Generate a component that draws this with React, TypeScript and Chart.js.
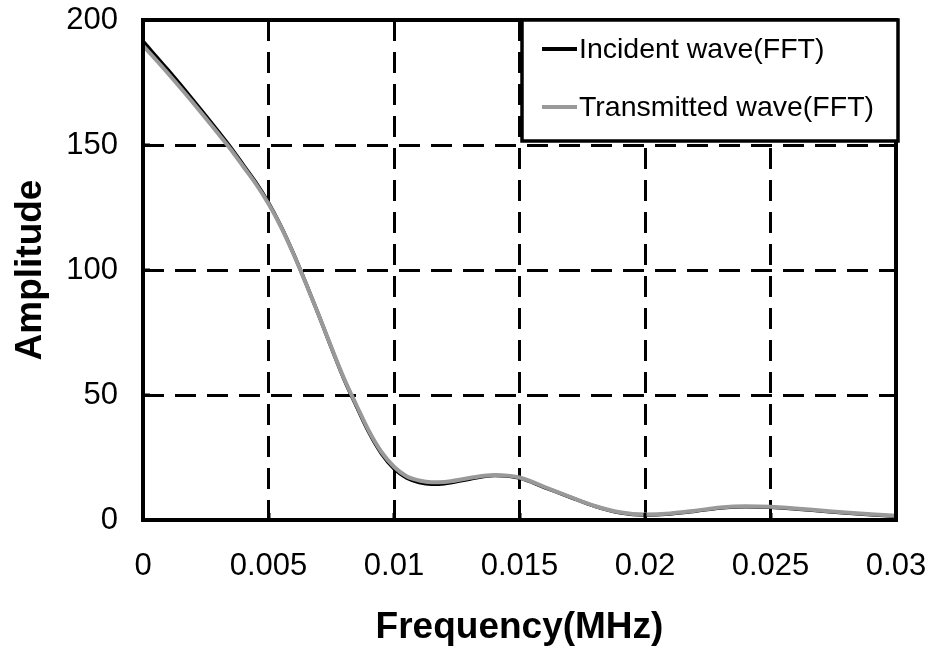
import React, { useEffect, useRef } from "react";
import { Chart, registerables } from "chart.js";

Chart.register(...registerables);

const frequency = [
  0, 0.001, 0.002, 0.003, 0.0035, 0.004, 0.0045, 0.005, 0.0055, 0.006, 0.0065, 0.007, 0.0075,
  0.008, 0.0085, 0.009, 0.0095, 0.01, 0.0105, 0.011, 0.0115, 0.012, 0.013, 0.014, 0.015, 0.016,
  0.017, 0.018, 0.019, 0.02, 0.021, 0.022, 0.023, 0.024, 0.025, 0.026, 0.027, 0.028, 0.029, 0.03,
];
const incident = [
  191.5, 180, 168, 155.5, 149, 142, 135, 127, 117.5, 106.5, 94.5, 82, 69, 56.5, 45.5, 35, 26.5,
  20.5, 16.8, 15, 14.3, 14.5, 16.3, 17.8, 16.8, 13, 9.2, 5.5, 2.9, 2, 2.4, 3.5, 4.8, 5.3, 5.1, 4.4,
  3.6, 2.8, 2.1, 1.5,
];
const transmitted = [
  189.8, 178.6, 166.8, 154.5, 148.2, 141.3, 134.4, 126.5, 117.2, 106.3, 94.4, 82, 69.2, 56.8, 46,
  35.6, 27.2, 21.3, 17.5, 15.8, 15.1, 15.2, 16.8, 18, 17, 13.2, 9.3, 5.6, 3.1, 2.2, 2.6, 3.7, 5,
  5.5, 5.3, 4.6, 3.8, 3, 2.3, 1.7,
];
const xTicks = [0, 0.005, 0.01, 0.015, 0.02, 0.025, 0.03];
const xTickLabels = ["0", "0.005", "0.01", "0.015", "0.02", "0.025", "0.03"];
const yTicks = [0, 50, 100, 150, 200];
const seriesNames = ["Incident wave(FFT)", "Transmitted wave(FFT)"];
const seriesColors = ["#000000", "#999999"];

const FONT = "'Liberation Sans', Arial, sans-serif";

const framePlugin = {
  id: "frameAndLegend",
  afterDatasetsDraw(chart: any) {
    const { ctx, chartArea } = chart;
    const { left, right, top, bottom } = chartArea;
    ctx.save();
    ctx.strokeStyle = "#000";
    ctx.lineWidth = 3;
    const ys = chart.scales.y;
    const xs = chart.scales.x;
    ctx.beginPath();
    yTicks.forEach((v) => {
      const py = Math.round(ys.getPixelForValue(v));
      ctx.moveTo(left, py);
      ctx.lineTo(left + 7, py);
    });
    xTicks.forEach((v) => {
      const px = Math.round(xs.getPixelForValue(v));
      ctx.moveTo(px, bottom);
      ctx.lineTo(px, bottom - 7);
    });
    ctx.stroke();
    ctx.lineWidth = 4;
    ctx.strokeRect(left, top, right - left, bottom - top);
    const bx = 522, by = 20, bw = 376, bh = 121;
    ctx.fillStyle = "#fff";
    ctx.fillRect(bx, by, bw, bh);
    ctx.lineWidth = 3.5;
    ctx.strokeStyle = "#000";
    ctx.strokeRect(bx, by, bw, bh);
    const rows = [49, 107];
    ctx.font = `28.5px ${FONT}`;
    ctx.textBaseline = "middle";
    ctx.textAlign = "left";
    seriesNames.forEach((name, i) => {
      ctx.strokeStyle = seriesColors[i];
      ctx.lineWidth = 4;
      ctx.beginPath();
      ctx.moveTo(542, rows[i]);
      ctx.lineTo(577, rows[i]);
      ctx.stroke();
      ctx.fillStyle = "#000";
      ctx.fillText(name, 579, rows[i] + 1);
    });
    ctx.restore();
  },
};

export default function App() {
  const ref = useRef<HTMLCanvasElement | null>(null);
  useEffect(() => {
    if (!ref.current) return;
    const chart = new Chart(ref.current, {
      type: "line",
      data: {
        datasets: [
          {
            label: seriesNames[0],
            data: frequency.map((f, i) => ({ x: f, y: incident[i] })),
            borderColor: seriesColors[0],
            borderWidth: 3.5,
            pointRadius: 0,
            cubicInterpolationMode: "monotone",
            fill: false,
            order: 1,
          },
          {
            label: seriesNames[1],
            data: frequency.map((f, i) => ({ x: f, y: transmitted[i] })),
            borderColor: seriesColors[1],
            borderWidth: 4,
            pointRadius: 0,
            cubicInterpolationMode: "monotone",
            fill: false,
            order: 0,
          },
        ],
      },
      options: {
        responsive: false,
        animation: false,
        layout: { padding: { top: 20, right: 36, left: 0, bottom: 0 } },
        plugins: { legend: { display: false }, tooltip: { enabled: false } },
        scales: {
          x: {
            type: "linear",
            min: 0,
            max: 0.03,
            afterBuildTicks: (s: any) => {
              s.ticks = xTicks.map((v) => ({ value: v }));
            },
            afterFit: (s: any) => {
              s.height = 132;
              s.paddingLeft = 0;
              s.paddingRight = 0;
            },
            ticks: {
              autoSkip: false,
              maxRotation: 0,
              padding: 28,
              color: "#000",
              font: { family: FONT, size: 31 },
              callback: (v: any) => {
                const i = xTicks.indexOf(Number(v));
                return i >= 0 ? xTickLabels[i] : "";
              },
            },
            grid: { color: "#000", lineWidth: 3, drawTicks: false },
            border: { display: false, dash: [21, 11] },
            title: {
              display: true,
              text: "Frequency(MHz)",
              color: "#000",
              font: { family: FONT, size: 37, weight: "bold" },
              padding: { top: 0, bottom: 2 },
            },
          },
          y: {
            type: "linear",
            min: 0,
            max: 200,
            afterBuildTicks: (s: any) => {
              s.ticks = yTicks.map((v) => ({ value: v }));
            },
            afterFit: (s: any) => {
              s.width = 143;
              s.paddingTop = 0;
              s.paddingBottom = 0;
            },
            ticks: {
              padding: 25,
              color: "#000",
              font: { family: FONT, size: 31 },
            },
            grid: { color: "#000", lineWidth: 3, drawTicks: false },
            border: { display: false, dash: [21, 11] },
            title: {
              display: true,
              text: "Amplitude",
              color: "#000",
              font: { family: FONT, size: 37, weight: "bold" },
              padding: { top: 9, bottom: 0 },
            },
          },
        },
      },
      plugins: [framePlugin],
    });
    return () => chart.destroy();
  }, []);
  return (
    <div style={{ position: "fixed", left: 0, top: 0, width: 932, height: 652, background: "#fff" }}>
      <canvas ref={ref} width={932} height={652} />
    </div>
  );
}
